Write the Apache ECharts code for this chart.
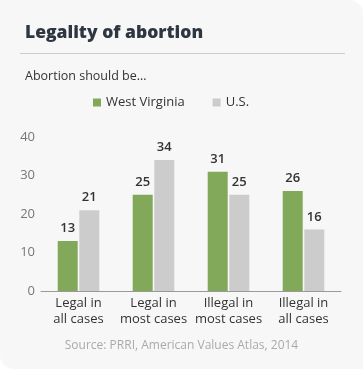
<!DOCTYPE html>
<html><head><meta charset="utf-8">
<script src="https://cdn.jsdelivr.net/npm/echarts@6/dist/echarts.min.js"></script>
<style>
html,body{margin:0;padding:0;background:#fff;}
#c{width:363px;height:369px;background:#f7f7f7;border-radius:0 14px 0 14px;overflow:hidden;}
</style></head>
<body><div id="c"></div>
<script>
const categories = ['Legal in\nall cases', 'Legal in\nmost cases', 'Illegal in\nmost cases', 'Illegal in\nall cases'];
const westVirginia = [13, 25, 31, 26];
const us = [21, 34, 25, 16];
const seriesNames = ['West Virginia', 'U.S.'];
const yTicks = [0, 10, 20, 30, 40];

const chart = echarts.init(document.getElementById('c'), null, {renderer: 'canvas'});
const font = '"Open Sans", sans-serif';
chart.setOption({
  backgroundColor: 'transparent',
  animation: false,
  textStyle: {fontFamily: font},
  title: [
    {text: 'Legality of abortion', left: 20, top: 19,
     textStyle: {fontSize: 17.5, fontWeight: 800, color: '#2e3641', fontFamily: font}},
    {text: 'Abortion should be…', left: 20, top: 65,
     textStyle: {fontSize: 12.5, fontWeight: 'normal', color: '#333', fontFamily: font}},
    {text: 'Source: PRRI, American Values Atlas, 2014', left: 'center', top: 335,
     textStyle: {fontSize: 12, fontWeight: 'normal', color: '#aaa', fontFamily: font}}
  ],
  graphic: [
    {type: 'line', shape: {x1: 20, y1: 53.5, x2: 345, y2: 53.5}, style: {stroke: '#ccc', lineWidth: 1}}
  ],
  legend: {
    data: seriesNames, top: 91, left: 88,
    itemWidth: 8, itemHeight: 8, itemGap: 28, icon: 'rect',
    textStyle: {fontSize: 13, color: '#333', fontFamily: font}
  },
  grid: {left: 41, right: 22, top: 137, bottom: 78, containLabel: false},
  xAxis: {
    type: 'category', data: categories,
    axisLine: {lineStyle: {color: '#999'}},
    axisTick: {show: false},
    axisLabel: {fontSize: 13, color: '#333', lineHeight: 16, margin: 4, interval: 0, fontFamily: font}
  },
  yAxis: {
    type: 'value', min: yTicks[0], max: yTicks[yTicks.length - 1], interval: 10,
    splitLine: {show: false},
    axisLine: {show: false}, axisTick: {show: false},
    axisLabel: {fontSize: 13, color: '#777', margin: 6, fontFamily: font}
  },
  series: [
    {name: seriesNames[0], type: 'bar', data: westVirginia, barWidth: 20, barGap: '8%',
     itemStyle: {color: '#82a95a'},
     label: {show: true, position: 'top', distance: 6, fontSize: 13, fontWeight: 600, color: '#333', fontFamily: font}},
    {name: seriesNames[1], type: 'bar', data: us, barWidth: 20, barGap: '8%',
     itemStyle: {color: '#cccccc'},
     label: {show: true, position: 'top', distance: 6, fontSize: 13, fontWeight: 600, color: '#333', fontFamily: font}}
  ]
});
</script></body></html>
